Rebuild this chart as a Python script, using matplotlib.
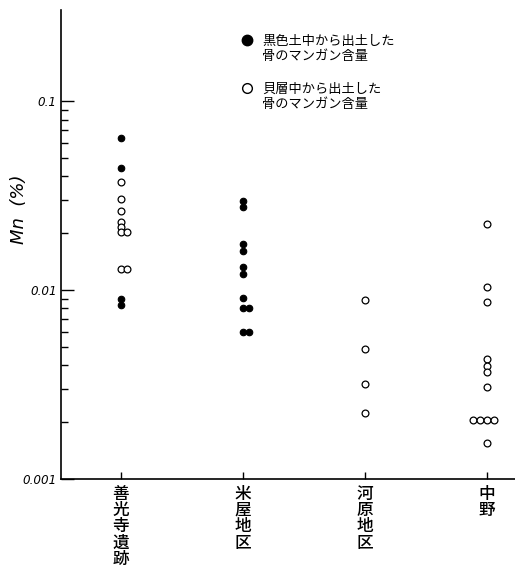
import numpy as np
import matplotlib.pyplot as plt
from matplotlib.lines import Line2D

plt.rcParams['font.family'] = ['Noto Sans CJK JP', 'DejaVu Sans']

# sites (x axis)
sites = ['善光寺遺跡', '米屋地区', '河原地区', '中野']

# Mn (%); "side" = small sideways shift for overlapping points
zenkoji_black = [0.0635, 0.0444, 0.00895, 0.00833]
zenkoji_black_side = [0, 0, 0, 0]
zenkoji_shell = [0.0374, 0.0305, 0.0264, 0.0230, 0.0215, 0.0203, 0.0203, 0.0130, 0.0130]
zenkoji_shell_side = [0, 0, 0, 0, 0, 0, 1, 0, 1]

komeya_black = [0.0297, 0.0276, 0.0175, 0.0161, 0.0133, 0.0122, 0.0091,
                0.0080, 0.0080, 0.0060, 0.0060]
komeya_black_side = [0, 0, 0, 0, 0, 0, 0, 0, 1, 0, 1]

kawara_shell = [0.00885, 0.00491, 0.00317, 0.00225]
kawara_shell_side = [0, 0, 0, 0]

nakano_shell = [0.0225, 0.01043, 0.00861, 0.00431, 0.00396, 0.00367, 0.00308,
                0.00205, 0.00205, 0.00205, 0.00205, 0.00155]
nakano_shell_side = [0, 0, 0, 0, 0, 0, 0, -2, -1, 0, 1, 0]

black_groups = [(0, zenkoji_black, zenkoji_black_side),
                (1, komeya_black, komeya_black_side)]
shell_groups = [(0, zenkoji_shell, zenkoji_shell_side),
                (2, kawara_shell, kawara_shell_side),
                (3, nakano_shell, nakano_shell_side)]

step = 0.055  # sideways shift per unit

fig = plt.figure(figsize=(5.15, 5.71), dpi=100)
ax = fig.add_axes([0.118, 0.161, 0.882, 0.821])

for i, vals, side in black_groups:
    x = i + step * np.array(side)
    ax.scatter(x, vals, s=22, facecolor='black', edgecolor='black', linewidths=0.8, zorder=3)
for i, vals, side in shell_groups:
    x = i + step * np.array(side)
    ax.scatter(x, vals, s=24, facecolor='white', edgecolor='black', linewidths=0.9, zorder=3)

ax.set_yscale('log')
ax.set_ylim(0.001, 0.303)
ax.set_xlim(-0.49, 3.23)

ax.spines['top'].set_visible(False)
ax.spines['right'].set_visible(False)
ax.spines['left'].set_linewidth(1.2)
ax.spines['bottom'].set_linewidth(1.2)

# y ticks: only within 0.001 - 0.1, pointing inward
ax.set_yticks([0.001, 0.01, 0.1])
ax.set_yticklabels(['0.001', '0.01', '0.1'], fontstyle='italic', family='DejaVu Sans',
                   fontsize=9.5, fontstretch='condensed')
minor = [m * 10.0 ** e for e in (-3, -2) for m in range(2, 10)]
ax.set_yticks(minor, minor=True)
ax.yaxis.set_minor_formatter(plt.NullFormatter())
ax.tick_params(axis='y', which='major', direction='in', length=9, width=1, pad=3)
ax.tick_params(axis='y', which='minor', direction='in', length=5, width=1)

ax.set_xticks(range(len(sites)))
ax.set_xticklabels(['\n'.join(s) for s in sites], fontsize=12, linespacing=0.88,
                   va='top', fontweight='medium')
ax.tick_params(axis='x', direction='in', length=5, width=1, pad=4)

fig.text(0.037, 0.634, 'Mn  (%)', rotation=90, fontsize=13, fontstyle='italic',
         family='DejaVu Sans', ha='center', va='center')

# legend
fig.add_artist(Line2D([247 / 515], [1 - 40 / 571], marker='o', ms=7.5, color='black',
                      markerfacecolor='black', linestyle='none'))
fig.add_artist(Line2D([247 / 515], [1 - 88 / 571], marker='o', ms=7, color='black',
                      markerfacecolor='white', markeredgewidth=1, linestyle='none'))
fig.text(262 / 515, 1 - 49 / 571, '黒色土中から出土した\n骨のマンガン含量', fontsize=9.5,
         va='center', ha='left', linespacing=1.2)
fig.text(262 / 515, 1 - 97 / 571, '貝層中から出土した\n骨のマンガン含量', fontsize=9.5,
         va='center', ha='left', linespacing=1.2)

fig.savefig('out.png', dpi=100)
